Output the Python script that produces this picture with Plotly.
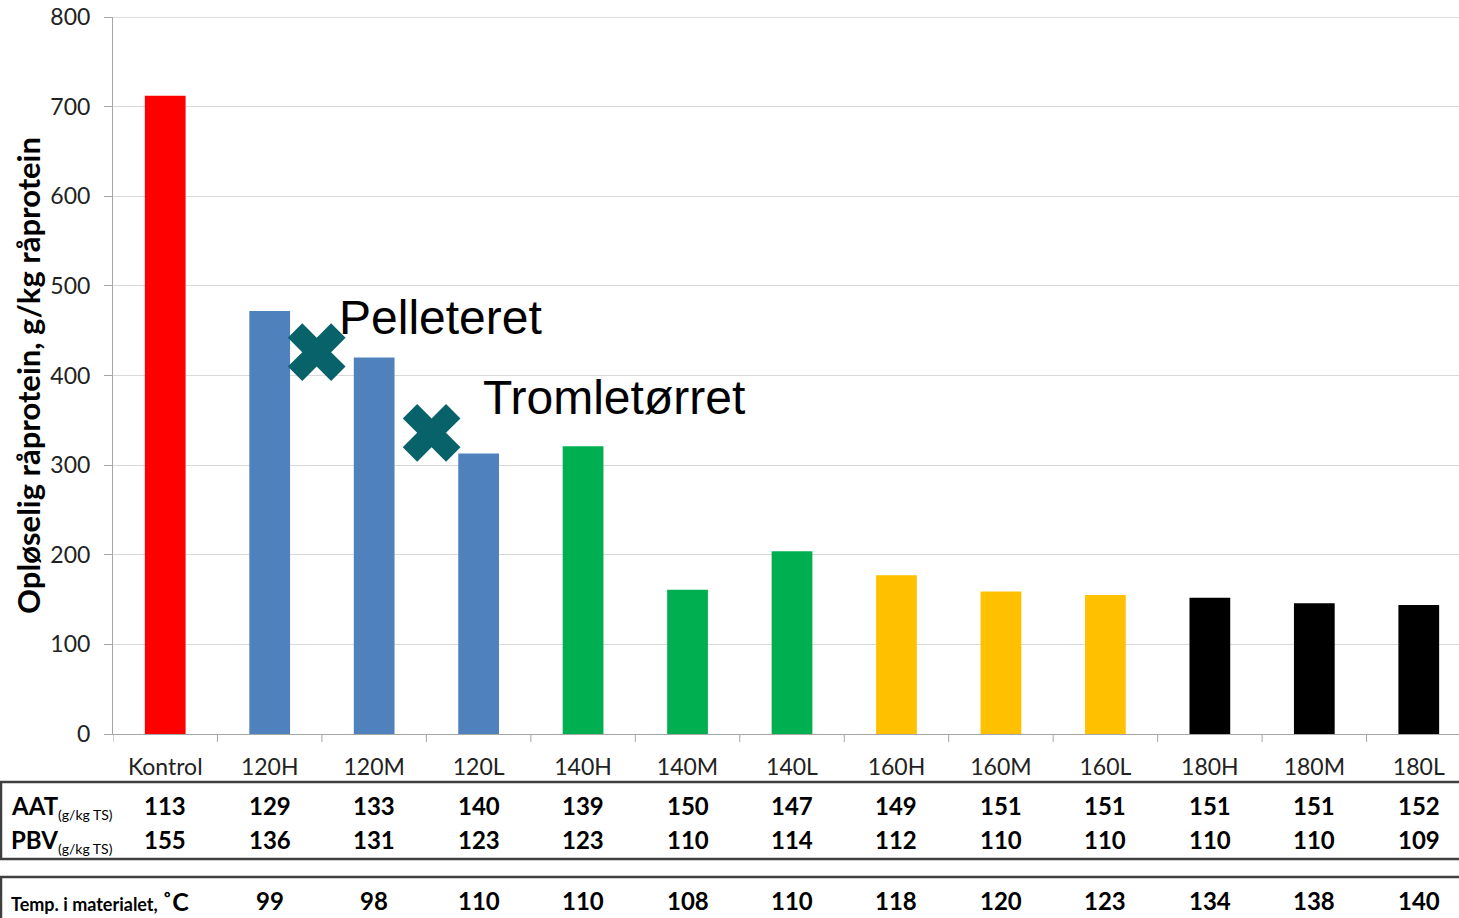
import plotly.graph_objects as go

categories = ["Kontrol", "120H", "120M", "120L", "140H", "140M", "140L",
              "160H", "160M", "160L", "180H", "180M", "180L"]
soluble_protein = [712, 472, 420, 313, 321, 161, 204, 177, 159, 155, 152, 146, 144]
bar_colors = ["#ff0000", "#4f81bd", "#4f81bd", "#4f81bd", "#00b050", "#00b050", "#00b050",
              "#ffc000", "#ffc000", "#ffc000", "#000000", "#000000", "#000000"]
aat = [113, 129, 133, 140, 139, 150, 147, 149, 151, 151, 151, 151, 152]
pbv = [155, 136, 131, 123, 123, 110, 114, 112, 110, 110, 110, 110, 109]
temp_categories = categories[1:]
temp = [99, 98, 110, 110, 108, 110, 118, 120, 123, 134, 138, 140]
marker_labels = ["Pelleteret", "Tromletørret"]
marker_x = [1.45, 2.55]
marker_y = [426, 336]
y_max = 800

W, H = 1459, 918
ML, MT = 113, 17
MR, MB = 0, H - 734
PLOT_H = H - MT - MB
PLOT_W = W - ML - MR


def py(p):
    """pixel row -> paper y"""
    return (734 - p) / PLOT_H


def px(p):
    """pixel column -> paper x"""
    return (p - 113) / PLOT_W


FONT = "Lato, 'Open Sans', sans-serif"

fig = go.Figure()
fig.add_trace(go.Bar(
    x=list(range(len(categories))), y=soluble_protein,
    marker=dict(color=bar_colors, line=dict(width=0)),
    width=0.39, showlegend=False, hoverinfo="x+y",
))
fig.add_trace(go.Scatter(
    x=marker_x, y=marker_y, mode="markers",
    marker=dict(symbol="x", size=51, color="#08626a", line=dict(width=0)),
    showlegend=False, hoverinfo="skip",
))

# Text labels next to the markers
text_pos = [(337, 317), (481, 397)]
for lab, (tx, ty) in zip(marker_labels, text_pos):
    fig.add_annotation(text=lab, xref="paper", yref="paper", x=px(tx), y=py(ty),
                       xanchor="left", yanchor="middle", showarrow=False,
                       font=dict(family="'Liberation Sans', Arial, sans-serif", size=48, color="#000"))

# Table rows
for i, c in enumerate(categories):
    fig.add_annotation(text=f"<b>{aat[i]}</b>", xref="x", yref="paper", x=i, y=py(805),
                       showarrow=False, xanchor="center", yanchor="middle",
                       font=dict(family=FONT, size=24, color="#000"))
    fig.add_annotation(text=f"<b>{pbv[i]}</b>", xref="x", yref="paper", x=i, y=py(839),
                       showarrow=False, xanchor="center", yanchor="middle",
                       font=dict(family=FONT, size=24, color="#000"))
for j, c in enumerate(temp_categories):
    fig.add_annotation(text=f"<b>{temp[j]}</b>", xref="x", yref="paper", x=j + 1, y=py(901),
                       showarrow=False, xanchor="center", yanchor="middle",
                       font=dict(family=FONT, size=24, color="#000"))

fig.add_annotation(text="<b>AAT</b><sub><span style='font-size:14px'>(g/kg TS)</span></sub>",
                   xref="paper", yref="paper", x=px(9), y=py(807), xanchor="left", yanchor="middle",
                   showarrow=False, font=dict(family=FONT, size=24, color="#000"))
fig.add_annotation(text="<b>PBV</b><sub><span style='font-size:14px'>(g/kg TS)</span></sub>",
                   xref="paper", yref="paper", x=px(9), y=py(841), xanchor="left", yanchor="middle",
                   showarrow=False, font=dict(family=FONT, size=24, color="#000"))
fig.add_annotation(text="<b>Temp. i materialet, </b><span style='font-size:25px'><b>˚C</b></span>",
                   xref="paper", yref="paper", x=px(9), y=py(901), xanchor="left", yanchor="middle",
                   showarrow=False, font=dict(family=FONT, size=18, color="#000"))

# Table borders
LC = "#404040"
for yy in (782, 859, 877):
    fig.add_shape(type="line", xref="paper", yref="paper", x0=px(0), x1=px(W + 5),
                  y0=py(yy), y1=py(yy), line=dict(color=LC, width=2.5))
fig.add_shape(type="line", xref="paper", yref="paper", x0=px(1), x1=px(1),
              y0=py(782), y1=py(859), line=dict(color=LC, width=2.5))
fig.add_shape(type="line", xref="paper", yref="paper", x0=px(1), x1=px(1),
              y0=py(877), y1=py(925), line=dict(color=LC, width=2.5))

# top gridline at the maximum of the value axis
fig.add_shape(type="line", xref="paper", yref="y", x0=0, x1=1, y0=y_max, y1=y_max,
              line=dict(color="#bfbfbf", width=1), layer="below")

fig.update_layout(
    width=W, height=H,
    margin=dict(l=ML, r=MR, t=MT, b=MB, autoexpand=False),
    paper_bgcolor="white", plot_bgcolor="white",
    xaxis=dict(
        tickmode="array", tickvals=list(range(len(categories))), ticktext=categories,
        range=[-0.5, 12.385], showline=True, linecolor="#a6a6a6", linewidth=1,
        ticks="", showgrid=False, zeroline=False,
        tickfont=dict(family=FONT, size=23, color="#222"),
        ticklabelstandoff=12,
    ),
    yaxis=dict(
        range=[0, y_max], dtick=100, showline=True, linecolor="#a6a6a6", linewidth=1,
        ticks="outside", ticklen=8, tickcolor="#a6a6a6",
        gridcolor="#d9d9d9", gridwidth=1, zeroline=False,
        tickfont=dict(family=FONT, size=23, color="#222"),
        ticklabelstandoff=9, ticklabeloverflow="allow",
        title=dict(text="<b>Opløselig råprotein, g/kg råprotein</b>",
                   font=dict(family=FONT, size=31, color="#000"), standoff=0),
    ),
)

# x-axis category boundary ticks
for k in range(len(categories)):
    fig.add_shape(type="line", xref="x", yref="paper", x0=k - 0.5, x1=k - 0.5,
                  y0=py(734), y1=py(742), line=dict(color="#a6a6a6", width=1))

fig.write_html(
    "out.html",
    config={"displayModeBar": False},
    post_script="document.body.style.margin='0px';document.body.style.overflow='hidden';",
)
